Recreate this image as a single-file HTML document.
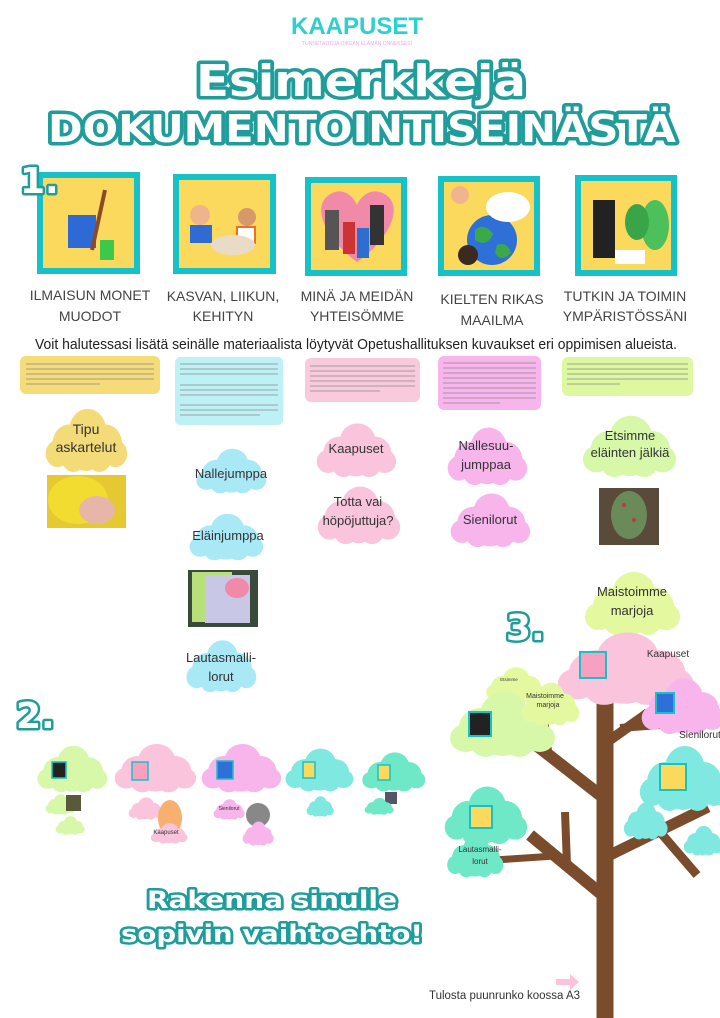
<!DOCTYPE html>
<html><head><meta charset="utf-8"><style>
html,body{margin:0;padding:0;background:#fff;}
svg{display:block;}
.t{font-family:"Liberation Sans",sans-serif;}
.title{font-family:"DejaVu Sans","Liberation Sans",sans-serif;font-weight:900;fill:#fff;stroke:#1f9d9a;paint-order:stroke;stroke-linejoin:round;}
.lab{font-family:"Liberation Sans",sans-serif;fill:#444;font-size:14px;text-anchor:middle;}
.cl{font-family:"Liberation Sans",sans-serif;fill:#333;text-anchor:middle;}
</style></head><body>
<svg width="720" height="1018" viewBox="0 0 720 1018" xmlns="http://www.w3.org/2000/svg">
<defs>
<symbol id="c" viewBox="0 0 100 70" preserveAspectRatio="none">
<circle cx="30" cy="40" r="20"/><circle cx="52" cy="26" r="22"/><circle cx="73" cy="40" r="20"/>
<circle cx="50" cy="48" r="20"/><circle cx="16" cy="50" r="14"/><circle cx="85" cy="50" r="14"/>
<circle cx="35" cy="55" r="14"/><circle cx="66" cy="55" r="14"/>
</symbol>
</defs>

<text x="357" y="34" class="t" font-size="24" font-weight="bold" fill="#2dd0d0" text-anchor="middle">KAAPUSET</text>
<text x="357" y="45" class="t" font-size="5" fill="#f2a8e0" text-anchor="middle">TUNNETAITOJA OIKEAN ELÄMÄN ONNEKSESI</text>

<text x="361" y="96" class="title" font-size="44" stroke-width="7" text-anchor="middle" textLength="330" lengthAdjust="spacingAndGlyphs">Esimerkkejä</text>
<text x="362" y="142" class="title" font-size="38" stroke-width="7" text-anchor="middle" textLength="628" lengthAdjust="spacingAndGlyphs">DOKUMENTOINTISEINÄSTÄ</text>

<g stroke="#16c2c8" stroke-width="6" fill="#fbd95c">
<rect x="40" y="175" width="97" height="96"/>
<rect x="176" y="177" width="97" height="94"/>
<rect x="308" y="180" width="96" height="93"/>
<rect x="441" y="179" width="96" height="94"/>
<rect x="578" y="178" width="96" height="95"/>
</g>
<text x="20" y="193" class="title" font-size="36" stroke-width="5">1.</text>
<rect x="68" y="215" width="28" height="33" fill="#2e6ad6"/><line x1="105" y1="190" x2="92" y2="250" stroke="#8b4a2a" stroke-width="4"/>
<rect x="100" y="240" width="14" height="20" fill="#3ec84a"/>
<circle cx="200" cy="215" r="10" fill="#f0b48c"/><rect x="190" y="225" width="22" height="18" fill="#2f6bd0"/><circle cx="247" cy="217" r="9" fill="#d7996c"/><rect x="237" y="227" width="18" height="16" fill="#fff" stroke="#f07020" stroke-width="2"/><ellipse cx="233" cy="245" rx="22" ry="10" fill="#e9dcc6"/>
<path d="M357 262 C320 235 310 200 335 192 C350 188 357 205 357 205 C357 205 364 188 380 192 C405 200 395 235 357 262Z" fill="#f08aa8"/>
<g fill="#555"><rect x="325" y="210" width="14" height="40"/><rect x="370" y="205" width="14" height="40" fill="#333"/></g><rect x="343" y="222" width="12" height="32" fill="#c33"/><rect x="357" y="228" width="12" height="30" fill="#2d6fd0"/>
<circle cx="492" cy="240" r="25" fill="#2e70d8"/><path d="M475 230 q10 -8 18 4 q-6 14 -18 6z M497 245 q10 -4 14 8 q-10 10 -16 0z" fill="#3ca84a"/><ellipse cx="508" cy="207" rx="22" ry="15" fill="#fff"/><circle cx="460" cy="195" r="9" fill="#f1b58d"/><circle cx="468" cy="255" r="10" fill="#3a2a20"/>
<rect x="593" y="200" width="22" height="58" fill="#222"/><ellipse cx="655" cy="225" rx="14" ry="25" fill="#4cc05a"/><ellipse cx="637" cy="222" rx="12" ry="18" fill="#3aa548"/><rect x="615" y="250" width="30" height="14" fill="#fff"/>

<g class="lab"><text x="90" y="300">ILMAISUN MONET</text><text x="90" y="321">MUODOT</text>
<text x="223" y="301">KASVAN, LIIKUN,</text><text x="223" y="321">KEHITYN</text>
<text x="357" y="301">MINÄ JA MEIDÄN</text><text x="357" y="321">YHTEISÖMME</text>
<text x="492" y="304">KIELTEN RIKAS</text><text x="492" y="325">MAAILMA</text>
<text x="625" y="301">TUTKIN JA TOIMIN</text><text x="625" y="321">YMPÄRISTÖSSÄNI</text></g>

<text x="356" y="349" class="t" font-size="14.5" fill="#222" text-anchor="middle" textLength="642" lengthAdjust="spacingAndGlyphs">Voit halutessasi lisätä seinälle materiaalista löytyvät Opetushallituksen kuvaukset eri oppimisen alueista.</text>

<rect x="20" y="356" width="140" height="38" rx="6" fill="#f5dc78"/>
<rect x="175" y="357" width="108" height="68" rx="5" fill="#bdf1f6"/>
<rect x="305" y="358" width="115" height="44" rx="6" fill="#f9c9dc"/>
<rect x="438" y="356" width="103" height="54" rx="6" fill="#f8b5ec"/>
<rect x="562" y="357" width="131" height="39" rx="6" fill="#ddf8a0"/>
<g stroke="#8a8a8a" stroke-width="1.2" opacity="0.6">
<line x1="26" y1="364" x2="154" y2="364"/><line x1="26" y1="369" x2="154" y2="369"/><line x1="26" y1="374" x2="154" y2="374"/><line x1="26" y1="379" x2="154" y2="379"/><line x1="26" y1="384" x2="100" y2="384"/>
<line x1="180" y1="364" x2="278" y2="364"/><line x1="180" y1="369" x2="278" y2="369"/><line x1="180" y1="374" x2="278" y2="374"/><line x1="180" y1="385" x2="278" y2="385"/><line x1="180" y1="390" x2="278" y2="390"/><line x1="180" y1="395" x2="278" y2="395"/><line x1="180" y1="405" x2="278" y2="405"/><line x1="180" y1="410" x2="278" y2="410"/><line x1="180" y1="415" x2="260" y2="415"/>
<line x1="310" y1="366" x2="415" y2="366"/><line x1="310" y1="371" x2="415" y2="371"/><line x1="310" y1="376" x2="415" y2="376"/><line x1="310" y1="381" x2="415" y2="381"/><line x1="310" y1="386" x2="415" y2="386"/><line x1="310" y1="391" x2="380" y2="391"/>
<line x1="443" y1="363" x2="536" y2="363"/><line x1="443" y1="368" x2="536" y2="368"/><line x1="443" y1="373" x2="536" y2="373"/><line x1="443" y1="378" x2="536" y2="378"/><line x1="443" y1="383" x2="536" y2="383"/><line x1="443" y1="388" x2="536" y2="388"/><line x1="443" y1="393" x2="536" y2="393"/><line x1="443" y1="398" x2="536" y2="398"/><line x1="443" y1="403" x2="500" y2="403"/>
<line x1="567" y1="364" x2="688" y2="364"/><line x1="567" y1="369" x2="688" y2="369"/><line x1="567" y1="374" x2="688" y2="374"/><line x1="567" y1="379" x2="688" y2="379"/><line x1="567" y1="384" x2="620" y2="384"/>
</g>

<use href="#c" x="44" y="405" width="84" height="68" fill="#f3dc78"/>
<text x="86" y="434" class="cl" font-size="14">Tipu</text><text x="86" y="452" class="cl" font-size="14">askartelut</text>
<rect x="47" y="475" width="79" height="53" fill="#e6c930"/><ellipse cx="78" cy="500" rx="30" ry="24" fill="#f2dc30"/><ellipse cx="97" cy="510" rx="18" ry="14" fill="#e8b6a8"/>

<use href="#c" x="195" y="446" width="72" height="48" fill="#a9e9f6"/>
<text x="231" y="478" class="cl" font-size="13">Nallejumppa</text>
<use href="#c" x="188" y="511" width="76" height="50" fill="#a9e9f6"/>
<text x="228" y="540" class="cl" font-size="13">Eläinjumppa</text>
<rect x="188" y="570" width="70" height="57" fill="#3a4a3a"/><rect x="192" y="572" width="40" height="50" fill="#b8e07a"/><rect x="205" y="575" width="45" height="48" fill="#c9c7e6"/><ellipse cx="237" cy="588" rx="12" ry="10" fill="#f08aa8"/>
<use href="#c" x="185" y="637" width="72" height="56" fill="#a9e9f6"/>
<text x="221" y="662" class="cl" font-size="13">Lautasmalli-</text><text x="221" y="681" class="cl" font-size="13">lorut</text>

<use href="#c" x="315" y="420" width="82" height="58" fill="#f9c4dc"/>
<text x="356" y="453" class="cl" font-size="13">Kaapuset</text>
<use href="#c" x="316" y="483" width="85" height="62" fill="#f9c4dc"/>
<text x="358" y="506" class="cl" font-size="13">Totta vai</text><text x="358" y="525" class="cl" font-size="13">höpöjuttuja?</text>

<use href="#c" x="446" y="424" width="82" height="62" fill="#f8b5ec"/>
<text x="486" y="450" class="cl" font-size="13">Nallesuu-</text><text x="486" y="469" class="cl" font-size="13">jumppaa</text>
<use href="#c" x="449" y="490" width="82" height="58" fill="#f8b5ec"/>
<text x="490" y="524" class="cl" font-size="13">Sienilorut</text>

<use href="#c" x="581" y="412" width="96" height="66" fill="#d6f8a8"/>
<text x="630" y="440" class="cl" font-size="13">Etsimme</text><text x="630" y="457" class="cl" font-size="13">eläinten jälkiä</text>
<rect x="599" y="488" width="60" height="57" fill="#5a4a3a"/><ellipse cx="629" cy="515" rx="18" ry="24" fill="#6a8a5a"/><circle cx="624" cy="505" r="2" fill="#c33"/><circle cx="634" cy="520" r="2" fill="#c33"/>
<use href="#c" x="583" y="568" width="98" height="68" fill="#e4f8a0"/>
<text x="632" y="596" class="cl" font-size="13">Maistoimme</text><text x="632" y="615" class="cl" font-size="13">marjoja</text>

<text x="506" y="640" class="title" font-size="36" stroke-width="5">3.</text>
<text x="16" y="728" class="title" font-size="36" stroke-width="5">2.</text>

<g stroke="#7a4c2b" stroke-linecap="butt" fill="none">
<line x1="605" y1="680" x2="605" y2="1018" stroke-width="17"/>
<line x1="600" y1="795" x2="527" y2="738" stroke-width="12"/>
<line x1="548" y1="755" x2="543" y2="713" stroke-width="9"/>
<line x1="610" y1="740" x2="648" y2="713" stroke-width="10"/>
<line x1="620" y1="728" x2="686" y2="723" stroke-width="8"/>
<line x1="610" y1="855" x2="708" y2="807" stroke-width="11"/>
<line x1="660" y1="832" x2="697" y2="875" stroke-width="9"/>
<line x1="600" y1="893" x2="530" y2="835" stroke-width="12"/>
<line x1="567" y1="865" x2="565" y2="812" stroke-width="8"/>
<line x1="555" y1="856" x2="495" y2="860" stroke-width="7"/>
</g>
<use href="#c" x="555" y="628" width="140" height="78" fill="#f9c4dc"/>
<rect x="580" y="652" width="26" height="26" fill="#f7a0c0" stroke="#16c2c8" stroke-width="2"/>
<text x="668" y="657" class="cl" font-size="10">Kaapuset</text>
<use href="#c" x="485" y="665" width="60" height="38" fill="#e4f8a0"/>
<text x="509" y="681" class="cl" font-size="4.5">Etsimme</text>
<use href="#c" x="448" y="688" width="108" height="70" fill="#d6f8a8"/>
<use href="#c" x="520" y="680" width="60" height="46" fill="#e4f8a0"/>
<text x="545" y="698" class="cl" font-size="7">Maistoimme</text><text x="548" y="707" class="cl" font-size="7">marjoja</text>
<rect x="469" y="712" width="22" height="24" fill="#222" stroke="#16c2c8" stroke-width="2"/>
<use href="#c" x="640" y="675" width="85" height="60" fill="#f8b5ec"/>
<rect x="656" y="693" width="18" height="20" fill="#2e70d8" stroke="#16c2c8" stroke-width="2"/>
<text x="700" y="738" class="cl" font-size="10">Sienilorut</text>
<use href="#c" x="638" y="742" width="90" height="70" fill="#7fe8e0"/>
<rect x="660" y="764" width="26" height="26" fill="#fbd95c" stroke="#16c2c8" stroke-width="2"/>
<use href="#c" x="623" y="800" width="45" height="40" fill="#7fe8e0"/>
<use href="#c" x="683" y="824" width="40" height="32" fill="#7fe8e0"/>
<use href="#c" x="443" y="783" width="85" height="62" fill="#6fe8c8"/>
<rect x="470" y="806" width="22" height="22" fill="#fbd95c" stroke="#16c2c8" stroke-width="2"/>
<use href="#c" x="446" y="832" width="58" height="46" fill="#6fe8c8"/>
<text x="480" y="852" class="cl" font-size="8">Lautasmalli-</text><text x="480" y="864" class="cl" font-size="8">lorut</text>

<use href="#c" x="36" y="743" width="72" height="50" fill="#d6f8a8"/>
<rect x="52" y="762" width="14" height="16" fill="#222" stroke="#16c2c8" stroke-width="1.5"/>
<use href="#c" x="113" y="741" width="84" height="52" fill="#f9c4dc"/>
<rect x="132" y="762" width="16" height="18" fill="#f7a0c0" stroke="#16c2c8" stroke-width="1.5"/>
<use href="#c" x="200" y="741" width="82" height="52" fill="#f8b5ec"/>
<rect x="217" y="761" width="16" height="18" fill="#2e70d8" stroke="#16c2c8" stroke-width="1.5"/>
<use href="#c" x="284" y="746" width="70" height="46" fill="#7fe8e0"/>
<rect x="303" y="762" width="12" height="16" fill="#fbd95c" stroke="#16c2c8" stroke-width="1.5"/>
<use href="#c" x="361" y="750" width="65" height="42" fill="#6fe8c8"/>
<rect x="378" y="765" width="12" height="15" fill="#fbd95c" stroke="#16c2c8" stroke-width="1.5"/>
<use href="#c" x="45" y="793" width="30" height="22" fill="#d6f8a8"/><rect x="66" y="795" width="15" height="16" fill="#5a5a3a"/>
<use href="#c" x="55" y="815" width="30" height="20" fill="#d6f8a8"/>
<use href="#c" x="128" y="796" width="35" height="24" fill="#f9c4dc"/>
<ellipse cx="170" cy="818" rx="12" ry="18" fill="#f8b070"/>
<use href="#c" x="150" y="822" width="38" height="22" fill="#f9c4dc"/><text x="166" y="834" class="cl" font-size="6">Kaapuset</text>
<use href="#c" x="213" y="798" width="32" height="22" fill="#f8b5ec"/><text x="229" y="810" class="cl" font-size="5">Sienilorut</text>
<circle cx="258" cy="815" r="12" fill="#888"/>
<use href="#c" x="242" y="820" width="32" height="26" fill="#f8b5ec"/>
<use href="#c" x="306" y="795" width="28" height="22" fill="#7fe8e0"/>
<rect x="385" y="792" width="12" height="12" fill="#556"/>
<use href="#c" x="364" y="797" width="30" height="18" fill="#6fe8c8"/>

<text x="272" y="908" class="title" font-size="24" stroke-width="5" text-anchor="middle" textLength="250" lengthAdjust="spacingAndGlyphs">Rakenna sinulle</text>
<text x="272" y="942" class="title" font-size="24" stroke-width="5" text-anchor="middle" textLength="302" lengthAdjust="spacingAndGlyphs">sopivin vaihtoehto!</text>

<path d="M556 979 h14 v-5 l9 8 -9 8 v-5 h-14z" fill="#f9c4dc"/>
<text x="429" y="999" class="t" font-size="11.5" fill="#333" textLength="151" lengthAdjust="spacingAndGlyphs">Tulosta puunrunko koossa A3</text>
</svg>
</body></html>
